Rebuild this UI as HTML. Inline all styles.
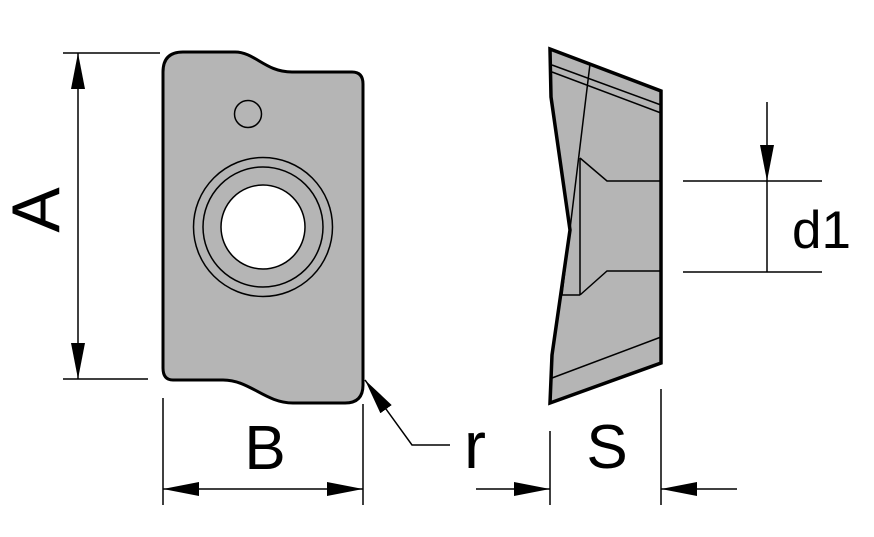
<!DOCTYPE html>
<html><head><meta charset="utf-8"><style>html,body{margin:0;padding:0;background:#fff}svg{display:block}</style></head>
<body>
<svg width="874" height="537" viewBox="0 0 874 537" xmlns="http://www.w3.org/2000/svg" font-family="Liberation Sans, Arial, sans-serif">
<defs>
<marker id="ar" viewBox="0 0 36 14" refX="36" refY="7" markerWidth="36" markerHeight="14" markerUnits="userSpaceOnUse" orient="auto-start-reverse">
<path d="M0,0 L36,7 L0,14 Z" fill="#000"/>
</marker>
</defs>
<!-- front view -->
<path d="M163,72 Q163,52 183,52 L235,52 C255,52 265,72 292,72 L352,72 Q363,72 363,84 L363,385 Q363,403 345,403 L293,403 C265,403 250,380 223,380 L173,380 Q163,380 163,368 Z" fill="#b5b5b5" stroke="#000" stroke-width="3"/>
<circle cx="248" cy="114" r="13.5" fill="none" stroke="#000" stroke-width="1.5"/>
<circle cx="263" cy="227" r="69.5" fill="none" stroke="#000" stroke-width="1.5"/>
<circle cx="263" cy="227" r="60" fill="none" stroke="#000" stroke-width="1.5"/>
<circle cx="263" cy="227" r="42" fill="#fff" stroke="#000" stroke-width="1.5"/>
<!-- side view -->
<path d="M550,49 L661,91 L661,363 L550,403 L552,355 L570,230 L551,97 Z" fill="#b5b5b5" stroke="#000" stroke-width="3.5" stroke-linejoin="miter"/>
<g stroke="#000" stroke-width="1.5" fill="none">
<line x1="552" y1="65" x2="661" y2="105"/>
<line x1="552" y1="72" x2="661" y2="113"/>
<polyline points="590,64 562,295 580,295"/>
<line x1="580" y1="158" x2="580" y2="295"/>
<polyline points="580,158 607,181 661,181"/>
<polyline points="580,295 607,271 661,271"/>
<line x1="552" y1="378" x2="661" y2="337"/>
</g>
<!-- dimensions -->
<g stroke="#000" stroke-width="1.5" fill="none">
<line x1="63" y1="53" x2="160" y2="53"/>
<line x1="63" y1="379" x2="148" y2="379"/>
<line x1="78" y1="53" x2="78" y2="379" marker-start="url(#ar)" marker-end="url(#ar)"/>
<line x1="163" y1="398" x2="163" y2="505"/>
<line x1="363" y1="404" x2="363" y2="505"/>
<line x1="163" y1="489" x2="363" y2="489" marker-start="url(#ar)" marker-end="url(#ar)"/>
<polyline points="450,445 412,445 365,380" marker-end="url(#ar)"/>
<line x1="550" y1="431" x2="550" y2="505"/>
<line x1="661" y1="389" x2="661" y2="505"/>
<line x1="476" y1="489" x2="550" y2="489" marker-end="url(#ar)"/>
<line x1="737" y1="489" x2="661" y2="489" marker-end="url(#ar)"/>
<line x1="683" y1="181" x2="822" y2="181"/>
<line x1="683" y1="272" x2="822" y2="272"/>
<line x1="767" y1="102" x2="767" y2="181" marker-end="url(#ar)"/>
<line x1="767" y1="181" x2="767" y2="272"/>
</g>
<text x="0" y="0" font-size="68" transform="translate(59,210) rotate(-90)" text-anchor="middle">A</text>
<text x="265" y="469" font-size="62" text-anchor="middle">B</text>
<text x="464" y="468" font-size="66">r</text>
<text x="607" y="468" font-size="62" text-anchor="middle">S</text>
<text x="792" y="248" font-size="53">d1</text>
</svg>
</body></html>
